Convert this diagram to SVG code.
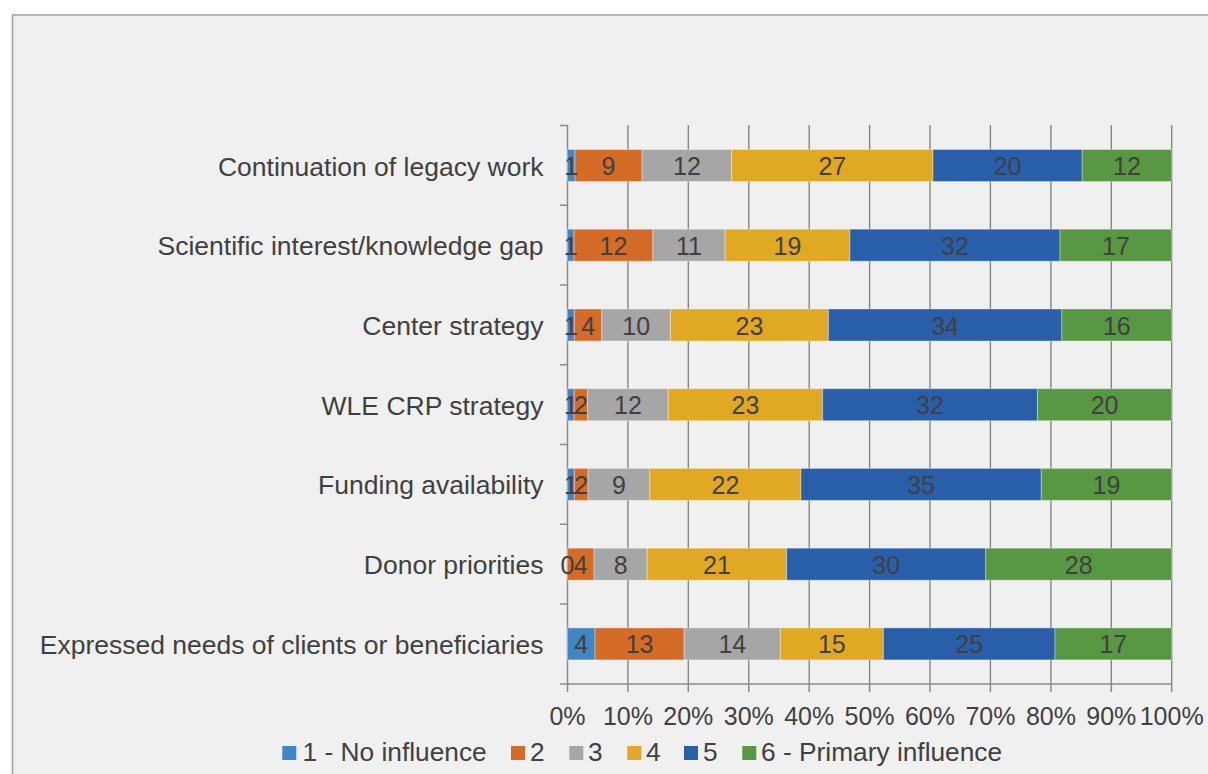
<svg xmlns="http://www.w3.org/2000/svg" width="1208" height="774" viewBox="0 0 1208 774">
<style>
text{font-family:"Liberation Sans",Arial,sans-serif;fill:#404040}
.cat{font-size:26.5px;text-anchor:end}
.val{font-size:25px;text-anchor:middle}
.ax{font-size:25px;text-anchor:middle}
.lg{font-size:26.3px}
.grid{stroke:#7f7f7f;stroke-width:1.3;fill:none}
.axis{stroke:#8a8a8a;stroke-width:1.5;fill:none}
.s rect{stroke:#ffffff;stroke-opacity:0.35;stroke-width:1}
.c1{fill:#4285c4}.c2{fill:#d46b27}.c3{fill:#a6a6a6}.c4{fill:#e1a923}.c5{fill:#295eab}.c6{fill:#599843}
</style>
<rect x="0" y="0" width="1208" height="774" fill="#ffffff"/>
<rect x="12.5" y="15" width="1210" height="780" fill="#f0f0f0" stroke="#a0a0a0" stroke-width="1.5"/>
<g id="axes">
<path class="grid" d="M627.9 125V684M688.3 125V684M748.8 125V684M809.2 125V684M869.6 125V684M930 125V684M990.4 125V684M1050.9 125V684M1111.3 125V684M1171.7 125V684"/>
<path class="axis" d="M567.5 125V692M567.5 684H1171.7M560 125.5H567.5M560 205.2H567.5M560 285H567.5M560 364.7H567.5M560 444.4H567.5M560 524.2H567.5M560 603.9H567.5M560 684H567.5M627.9 684V692M688.3 684V692M748.8 684V692M809.2 684V692M869.6 684V692M930 684V692M990.4 684V692M1050.9 684V692M1111.3 684V692M1171.7 684V692"/>
<text class="ax" x="567.5" y="724.5">0%</text>
<text class="ax" x="627.9" y="724.5">10%</text>
<text class="ax" x="688.3" y="724.5">20%</text>
<text class="ax" x="748.8" y="724.5">30%</text>
<text class="ax" x="809.2" y="724.5">40%</text>
<text class="ax" x="869.6" y="724.5">50%</text>
<text class="ax" x="930" y="724.5">60%</text>
<text class="ax" x="990.4" y="724.5">70%</text>
<text class="ax" x="1050.9" y="724.5">80%</text>
<text class="ax" x="1111.3" y="724.5">90%</text>
<text class="ax" x="1171.7" y="724.5">100%</text>
</g>
<g id="row-legacy" class="s">
<text class="cat" x="543.5" y="175.5">Continuation of legacy work</text>
<rect class="c1" x="567.5" y="149.5" width="7.46" height="32"/>
<rect class="c2" x="574.96" y="149.5" width="67.13" height="32"/>
<rect class="c3" x="642.09" y="149.5" width="89.51" height="32"/>
<rect class="c4" x="731.6" y="149.5" width="201.4" height="32"/>
<rect class="c5" x="933" y="149.5" width="149.19" height="32"/>
<rect class="c6" x="1082.19" y="149.5" width="89.51" height="32"/>
<text class="val" x="571.2" y="175">1</text>
<text class="val" x="608.5" y="175">9</text>
<text class="val" x="686.9" y="175">12</text>
<text class="val" x="832.3" y="175">27</text>
<text class="val" x="1007.6" y="175">20</text>
<text class="val" x="1126.9" y="175">12</text>
</g>
<g id="row-scientific" class="s">
<text class="cat" x="543.5" y="255.2">Scientific interest/knowledge gap</text>
<rect class="c1" x="567.5" y="229.2" width="6.57" height="32"/>
<rect class="c2" x="574.07" y="229.2" width="78.81" height="32"/>
<rect class="c3" x="652.88" y="229.2" width="72.24" height="32"/>
<rect class="c4" x="725.12" y="229.2" width="124.78" height="32"/>
<rect class="c5" x="849.9" y="229.2" width="210.15" height="32"/>
<rect class="c6" x="1060.05" y="229.2" width="111.65" height="32"/>
<text class="val" x="570.8" y="254.7">1</text>
<text class="val" x="613.5" y="254.7">12</text>
<text class="val" x="689" y="254.7">11</text>
<text class="val" x="787.5" y="254.7">19</text>
<text class="val" x="955" y="254.7">32</text>
<text class="val" x="1115.9" y="254.7">17</text>
</g>
<g id="row-center" class="s">
<text class="cat" x="543.5" y="335">Center strategy</text>
<rect class="c1" x="567.5" y="309" width="6.87" height="32"/>
<rect class="c2" x="574.37" y="309" width="27.46" height="32"/>
<rect class="c3" x="601.83" y="309" width="68.66" height="32"/>
<rect class="c4" x="670.49" y="309" width="157.92" height="32"/>
<rect class="c5" x="828.41" y="309" width="233.44" height="32"/>
<rect class="c6" x="1061.85" y="309" width="109.85" height="32"/>
<text class="val" x="570.9" y="334.5">1</text>
<text class="val" x="588.1" y="334.5">4</text>
<text class="val" x="636.2" y="334.5">10</text>
<text class="val" x="749.5" y="334.5">23</text>
<text class="val" x="945.1" y="334.5">34</text>
<text class="val" x="1116.8" y="334.5">16</text>
</g>
<g id="row-wle" class="s">
<text class="cat" x="543.5" y="414.7">WLE CRP strategy</text>
<rect class="c1" x="567.5" y="388.7" width="6.71" height="32"/>
<rect class="c2" x="574.21" y="388.7" width="13.43" height="32"/>
<rect class="c3" x="587.64" y="388.7" width="80.56" height="32"/>
<rect class="c4" x="668.2" y="388.7" width="154.41" height="32"/>
<rect class="c5" x="822.61" y="388.7" width="214.82" height="32"/>
<rect class="c6" x="1037.43" y="388.7" width="134.27" height="32"/>
<text class="val" x="570.9" y="414.2">1</text>
<text class="val" x="580.9" y="414.2">2</text>
<text class="val" x="627.9" y="414.2">12</text>
<text class="val" x="745.4" y="414.2">23</text>
<text class="val" x="930" y="414.2">32</text>
<text class="val" x="1104.6" y="414.2">20</text>
</g>
<g id="row-funding" class="s">
<text class="cat" x="543.5" y="494.4">Funding availability</text>
<rect class="c1" x="567.5" y="468.4" width="6.87" height="32"/>
<rect class="c2" x="574.37" y="468.4" width="13.73" height="32"/>
<rect class="c3" x="588.1" y="468.4" width="61.79" height="32"/>
<rect class="c4" x="649.89" y="468.4" width="151.05" height="32"/>
<rect class="c5" x="800.94" y="468.4" width="240.31" height="32"/>
<rect class="c6" x="1041.25" y="468.4" width="130.45" height="32"/>
<text class="val" x="570.9" y="493.9">1</text>
<text class="val" x="581.2" y="493.9">2</text>
<text class="val" x="619" y="493.9">9</text>
<text class="val" x="725.4" y="493.9">22</text>
<text class="val" x="921.1" y="493.9">35</text>
<text class="val" x="1106.5" y="493.9">19</text>
</g>
<g id="row-donor" class="s">
<text class="cat" x="543.5" y="574.2">Donor priorities</text>
<rect class="c2" x="567.5" y="548.2" width="26.56" height="32"/>
<rect class="c3" x="594.06" y="548.2" width="53.11" height="32"/>
<rect class="c4" x="647.17" y="548.2" width="139.43" height="32"/>
<rect class="c5" x="786.6" y="548.2" width="199.19" height="32"/>
<rect class="c6" x="985.79" y="548.2" width="185.91" height="32"/>
<text class="val" x="567.5" y="573.7">0</text>
<text class="val" x="580.8" y="573.7">4</text>
<text class="val" x="620.6" y="573.7">8</text>
<text class="val" x="716.9" y="573.7">21</text>
<text class="val" x="886.2" y="573.7">30</text>
<text class="val" x="1078.7" y="573.7">28</text>
</g>
<g id="row-needs" class="s">
<text class="cat" x="543.5" y="653.9">Expressed needs of clients or beneficiaries</text>
<rect class="c1" x="567.5" y="627.9" width="27.46" height="32"/>
<rect class="c2" x="594.96" y="627.9" width="89.26" height="32"/>
<rect class="c3" x="684.22" y="627.9" width="96.12" height="32"/>
<rect class="c4" x="780.34" y="627.9" width="102.99" height="32"/>
<rect class="c5" x="883.33" y="627.9" width="171.65" height="32"/>
<rect class="c6" x="1054.98" y="627.9" width="116.72" height="32"/>
<text class="val" x="581.2" y="653.4">4</text>
<text class="val" x="639.6" y="653.4">13</text>
<text class="val" x="732.3" y="653.4">14</text>
<text class="val" x="831.8" y="653.4">15</text>
<text class="val" x="969.2" y="653.4">25</text>
<text class="val" x="1113.3" y="653.4">17</text>
</g>
<g id="legend">
<rect class="c1" x="282.3" y="746" width="14" height="14"/>
<text class="lg" x="302.5" y="760.5">1 - No influence</text>
<rect class="c2" x="511" y="746" width="14" height="14"/>
<text class="lg" x="530" y="760.5">2</text>
<rect class="c3" x="569.3" y="746" width="14" height="14"/>
<text class="lg" x="588" y="760.5">3</text>
<rect class="c4" x="627.3" y="746" width="14" height="14"/>
<text class="lg" x="646" y="760.5">4</text>
<rect class="c5" x="684" y="746" width="14" height="14"/>
<text class="lg" x="703" y="760.5">5</text>
<rect class="c6" x="742.3" y="746" width="14" height="14"/>
<text class="lg" x="761" y="760.5">6 - Primary influence</text>
</g>
</svg>
